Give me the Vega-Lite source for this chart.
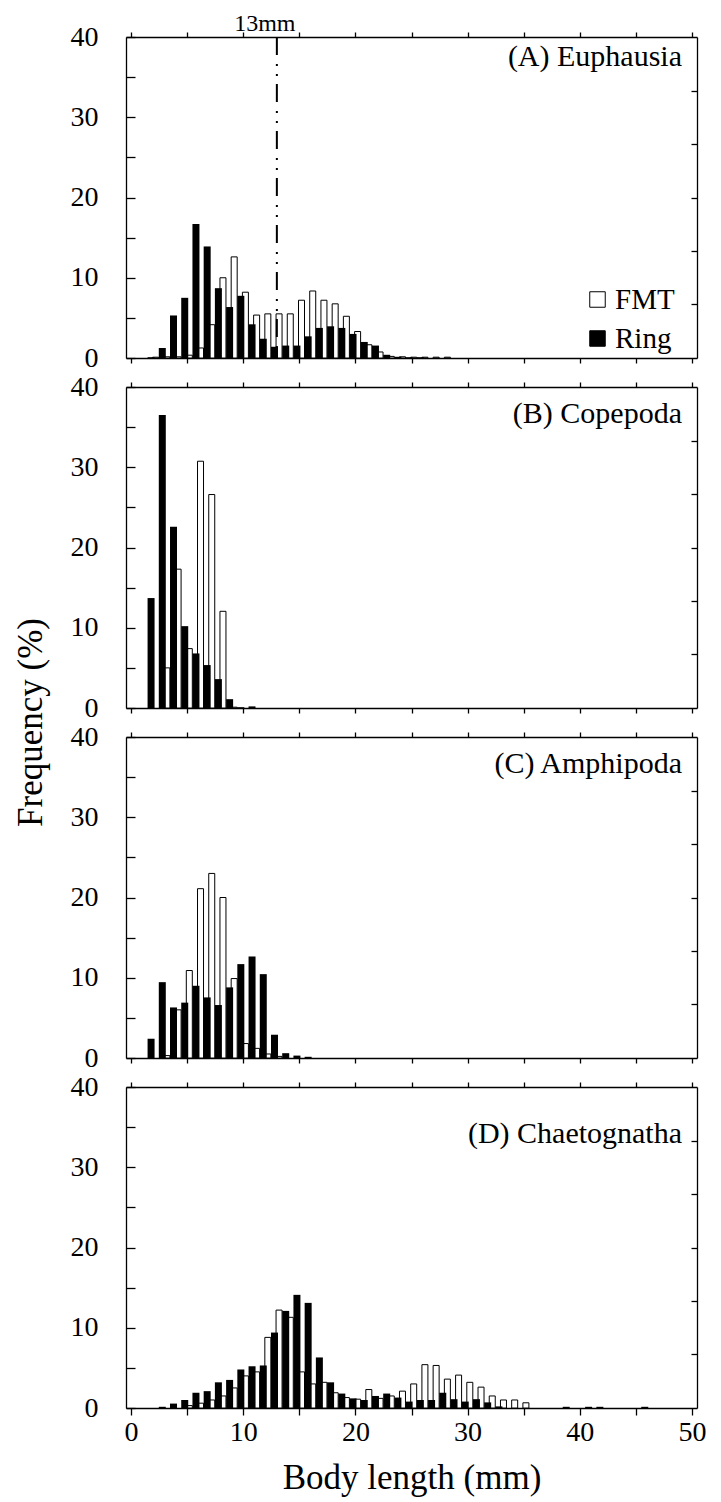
{
"$schema":"https://vega.github.io/schema/vega-lite/v6.json",
"padding":{"left":13,"top":12,"right":0,"bottom":5},
"background":"white",
"config":{"view":{"stroke":null},
"axis":{"grid":false,"domainColor":"black","tickColor":"black","domainWidth":1.3,"tickWidth":1.3,"labelFont":"Liberation Serif","labelFontSize":28,"labelColor":"black","titleFont":"Liberation Serif","titleFontSize":35,"titleFontWeight":"normal","titleColor":"black"}},
"datasets":{
"bars":[
{"p":"A","net":"FMT","len":2,"value":0.1},{"p":"A","net":"FMT","len":3,"value":0.15},{"p":"A","net":"FMT","len":4,"value":0.15},{"p":"A","net":"FMT","len":5,"value":0.35},{"p":"A","net":"FMT","len":6,"value":1.25},{"p":"A","net":"FMT","len":7,"value":4.15},{"p":"A","net":"FMT","len":8,"value":10.0},{"p":"A","net":"FMT","len":9,"value":12.6},{"p":"A","net":"FMT","len":10,"value":8.2},{"p":"A","net":"FMT","len":11,"value":5.35},{"p":"A","net":"FMT","len":12,"value":5.5},{"p":"A","net":"FMT","len":13,"value":5.5},{"p":"A","net":"FMT","len":14,"value":5.5},{"p":"A","net":"FMT","len":15,"value":7.2},{"p":"A","net":"FMT","len":16,"value":8.35},{"p":"A","net":"FMT","len":17,"value":7.2},{"p":"A","net":"FMT","len":18,"value":6.75},{"p":"A","net":"FMT","len":19,"value":5.2},{"p":"A","net":"FMT","len":20,"value":3.3},{"p":"A","net":"FMT","len":21,"value":1.65},{"p":"A","net":"FMT","len":22,"value":0.75},{"p":"A","net":"FMT","len":23,"value":0.2},{"p":"A","net":"FMT","len":24,"value":0.15},{"p":"A","net":"FMT","len":25,"value":0.1},{"p":"A","net":"FMT","len":26,"value":0.1},{"p":"A","net":"FMT","len":27,"value":0.1},{"p":"A","net":"FMT","len":28,"value":0.1},
{"p":"A","net":"Ring","len":1,"value":0.1},{"p":"A","net":"Ring","len":2,"value":1.25},{"p":"A","net":"Ring","len":3,"value":5.3},{"p":"A","net":"Ring","len":4,"value":7.5},{"p":"A","net":"Ring","len":5,"value":16.7},{"p":"A","net":"Ring","len":6,"value":13.9},{"p":"A","net":"Ring","len":7,"value":8.7},{"p":"A","net":"Ring","len":8,"value":6.35},{"p":"A","net":"Ring","len":9,"value":7.75},{"p":"A","net":"Ring","len":10,"value":4.2},{"p":"A","net":"Ring","len":11,"value":2.4},{"p":"A","net":"Ring","len":12,"value":1.4},{"p":"A","net":"Ring","len":13,"value":1.55},{"p":"A","net":"Ring","len":14,"value":1.55},{"p":"A","net":"Ring","len":15,"value":2.7},{"p":"A","net":"Ring","len":16,"value":3.75},{"p":"A","net":"Ring","len":17,"value":3.95},{"p":"A","net":"Ring","len":18,"value":3.75},{"p":"A","net":"Ring","len":19,"value":3.0},{"p":"A","net":"Ring","len":20,"value":2.0},{"p":"A","net":"Ring","len":21,"value":1.55},{"p":"A","net":"Ring","len":22,"value":0.4},{"p":"A","net":"Ring","len":23,"value":0.15},{"p":"A","net":"Ring","len":24,"value":0.1},{"p":"A","net":"Ring","len":25,"value":0.1},
{"p":"B","net":"FMT","len":3,"value":5.0},{"p":"B","net":"FMT","len":4,"value":17.3},{"p":"B","net":"FMT","len":5,"value":7.4},{"p":"B","net":"FMT","len":6,"value":30.75},{"p":"B","net":"FMT","len":7,"value":26.6},{"p":"B","net":"FMT","len":8,"value":12.05},{"p":"B","net":"FMT","len":9,"value":0.1},
{"p":"B","net":"Ring","len":1,"value":13.7},{"p":"B","net":"Ring","len":2,"value":36.5},{"p":"B","net":"Ring","len":3,"value":22.6},{"p":"B","net":"Ring","len":4,"value":10.2},{"p":"B","net":"Ring","len":5,"value":6.8},{"p":"B","net":"Ring","len":6,"value":5.35},{"p":"B","net":"Ring","len":7,"value":3.6},{"p":"B","net":"Ring","len":8,"value":1.1},{"p":"B","net":"Ring","len":9,"value":0.1},{"p":"B","net":"Ring","len":10,"value":0.2},
{"p":"C","net":"FMT","len":3,"value":0.3},{"p":"C","net":"FMT","len":4,"value":6.0},{"p":"C","net":"FMT","len":5,"value":10.9},{"p":"C","net":"FMT","len":6,"value":21.1},{"p":"C","net":"FMT","len":7,"value":23.0},{"p":"C","net":"FMT","len":8,"value":20.0},{"p":"C","net":"FMT","len":9,"value":9.9},{"p":"C","net":"FMT","len":10,"value":1.8},{"p":"C","net":"FMT","len":11,"value":1.2},{"p":"C","net":"FMT","len":12,"value":0.5},{"p":"C","net":"FMT","len":13,"value":0.2},
{"p":"C","net":"Ring","len":1,"value":2.4},{"p":"C","net":"Ring","len":2,"value":9.45},{"p":"C","net":"Ring","len":3,"value":6.3},{"p":"C","net":"Ring","len":4,"value":6.9},{"p":"C","net":"Ring","len":5,"value":9.0},{"p":"C","net":"Ring","len":6,"value":7.55},{"p":"C","net":"Ring","len":7,"value":6.6},{"p":"C","net":"Ring","len":8,"value":8.8},{"p":"C","net":"Ring","len":9,"value":11.7},{"p":"C","net":"Ring","len":10,"value":12.65},{"p":"C","net":"Ring","len":11,"value":10.45},{"p":"C","net":"Ring","len":12,"value":2.9},{"p":"C","net":"Ring","len":13,"value":0.6},{"p":"C","net":"Ring","len":14,"value":0.3},{"p":"C","net":"Ring","len":15,"value":0.15},
{"p":"D","net":"FMT","len":5,"value":0.3},{"p":"D","net":"FMT","len":6,"value":0.6},{"p":"D","net":"FMT","len":7,"value":1.0},{"p":"D","net":"FMT","len":8,"value":1.5},{"p":"D","net":"FMT","len":9,"value":2.5},{"p":"D","net":"FMT","len":10,"value":4.0},{"p":"D","net":"FMT","len":11,"value":4.5},{"p":"D","net":"FMT","len":12,"value":8.8},{"p":"D","net":"FMT","len":13,"value":12.2},{"p":"D","net":"FMT","len":14,"value":11.3},{"p":"D","net":"FMT","len":15,"value":4.5},{"p":"D","net":"FMT","len":16,"value":3.0},{"p":"D","net":"FMT","len":17,"value":3.2},{"p":"D","net":"FMT","len":18,"value":1.9},{"p":"D","net":"FMT","len":19,"value":1.3},{"p":"D","net":"FMT","len":20,"value":1.1},{"p":"D","net":"FMT","len":21,"value":2.3},{"p":"D","net":"FMT","len":22,"value":1.2},{"p":"D","net":"FMT","len":23,"value":1.5},{"p":"D","net":"FMT","len":24,"value":2.1},{"p":"D","net":"FMT","len":25,"value":3.0},{"p":"D","net":"FMT","len":26,"value":5.4},{"p":"D","net":"FMT","len":27,"value":5.3},{"p":"D","net":"FMT","len":28,"value":3.6},{"p":"D","net":"FMT","len":29,"value":4.1},{"p":"D","net":"FMT","len":30,"value":3.2},{"p":"D","net":"FMT","len":31,"value":2.6},{"p":"D","net":"FMT","len":32,"value":1.5},{"p":"D","net":"FMT","len":33,"value":1.0},{"p":"D","net":"FMT","len":34,"value":1.0},{"p":"D","net":"FMT","len":35,"value":0.65},
{"p":"D","net":"Ring","len":2,"value":0.15},{"p":"D","net":"Ring","len":3,"value":0.55},{"p":"D","net":"Ring","len":4,"value":1.0},{"p":"D","net":"Ring","len":5,"value":1.9},{"p":"D","net":"Ring","len":6,"value":2.1},{"p":"D","net":"Ring","len":7,"value":3.2},{"p":"D","net":"Ring","len":8,"value":3.5},{"p":"D","net":"Ring","len":9,"value":4.8},{"p":"D","net":"Ring","len":10,"value":5.2},{"p":"D","net":"Ring","len":11,"value":5.3},{"p":"D","net":"Ring","len":12,"value":9.4},{"p":"D","net":"Ring","len":13,"value":12.1},{"p":"D","net":"Ring","len":14,"value":14.1},{"p":"D","net":"Ring","len":15,"value":13.1},{"p":"D","net":"Ring","len":16,"value":6.3},{"p":"D","net":"Ring","len":17,"value":3.2},{"p":"D","net":"Ring","len":18,"value":1.8},{"p":"D","net":"Ring","len":19,"value":1.2},{"p":"D","net":"Ring","len":20,"value":1.0},{"p":"D","net":"Ring","len":21,"value":1.5},{"p":"D","net":"Ring","len":22,"value":1.8},{"p":"D","net":"Ring","len":23,"value":1.3},{"p":"D","net":"Ring","len":24,"value":0.8},{"p":"D","net":"Ring","len":25,"value":1.0},{"p":"D","net":"Ring","len":26,"value":1.0},{"p":"D","net":"Ring","len":27,"value":1.9},{"p":"D","net":"Ring","len":28,"value":1.1},{"p":"D","net":"Ring","len":29,"value":0.8},{"p":"D","net":"Ring","len":30,"value":1.1},{"p":"D","net":"Ring","len":31,"value":0.7},{"p":"D","net":"Ring","len":32,"value":0.2},{"p":"D","net":"Ring","len":38,"value":0.15},{"p":"D","net":"Ring","len":40,"value":0.15},{"p":"D","net":"Ring","len":41,"value":0.15},{"p":"D","net":"Ring","len":45,"value":0.15}
],
"labels":[{"p":"A","label":"(A) Euphausia"},{"p":"B","label":"(B) Copepoda"},{"p":"C","label":"(C) Amphipoda"},{"p":"D","label":"(D) Chaetognatha"}]
},
"bounds":"flush",
"spacing":29,
"resolve":{"scale":{"fill":"independent"},"legend":{"fill":"independent"}},
"vconcat":[
{"width":571,"height":321,"layer":[
{"data":{"name":"bars"},"transform":[{"filter":"datum.p==='A' && datum.net==='FMT'"}],
"mark":{"type":"bar","width":6,"xOffset":2.2,"stroke":"black","strokeWidth":1},
"encoding":{"x":{"field":"len","type":"quantitative","scale":{"domain":[0,50],"nice":false,"zero":false},"axis":{"orient":"bottom","values":[0,5,10,15,20,25,30,35,40,45,50],"labels":false,"tickSize":5,"title":null}},
"y":{"field":"value","type":"quantitative","scale":{"domain":[0,40],"nice":false},"axis":{"orient":"left","values":[0,5,10,15,20,25,30,35,40],"labelExpr":"datum.value % 10 === 0 ? datum.label : ''","tickSize":-9,"labelPadding":37,"title":null}},
"fill":{"field":"net","type":"nominal","scale":{"domain":["FMT","Ring"],"range":["white","black"]},"legend":{"orient":"none","legendX":457,"legendY":248,"symbolType":"square","symbolSize":240,"symbolStrokeColor":"black","symbolStrokeWidth":1,"symbolOpacity":1,"labelFont":"Liberation Serif","labelFontSize":29,"labelColor":"black","labelOffset":3,"rowPadding":9,"title":null,"padding":0}}}},
{"data":{"name":"bars"},"transform":[{"filter":"datum.p==='A' && datum.net==='Ring'"}],
"mark":{"type":"bar","width":7,"xOffset":8.85},
"encoding":{"x":{"field":"len","type":"quantitative","axis":{"orient":"top","values":[0,5,10,15,20,25,30,35,40,45,50],"labels":false,"tickSize":5,"title":null}},
"y":{"field":"value","type":"quantitative","axis":{"orient":"right","values":[6.6667,13.3333,20,26.6667,33.3333],"labels":false,"tickSize":-6,"title":null}},
"fill":{"field":"net","type":"nominal"}}},
{"data":{"values":[{}]},"mark":{"type":"rule","strokeDash":[18,9,2,8,2,8],"strokeWidth":2,"color":"black"},"encoding":{"x":{"datum":13,"type":"quantitative","axis":null}}},
{"data":{"values":[{}]},"mark":{"type":"text","text":"13mm","font":"Liberation Serif","fontSize":24,"color":"black","align":"center","baseline":"alphabetic","dx":-12,"dy":-6},"encoding":{"x":{"datum":13,"type":"quantitative","axis":null},"y":{"datum":40,"type":"quantitative","axis":null}}},
{"data":{"name":"labels"},"transform":[{"filter":"datum.p==='A'"}],"mark":{"type":"text","font":"Liberation Serif","fontSize":30,"color":"black","align":"right","baseline":"alphabetic","dx":-10,"dy":29},"encoding":{"x":{"datum":50,"type":"quantitative","axis":null},"y":{"datum":40,"type":"quantitative","axis":null},"text":{"field":"label"}}}
]},
{"width":571,"height":321,"layer":[
{"data":{"name":"bars"},"transform":[{"filter":"datum.p==='B' && datum.net==='FMT'"}],
"mark":{"type":"bar","width":6,"xOffset":2.2,"stroke":"black","strokeWidth":1},
"encoding":{"x":{"field":"len","type":"quantitative","scale":{"domain":[0,50],"nice":false,"zero":false},"axis":{"orient":"bottom","values":[0,5,10,15,20,25,30,35,40,45,50],"labels":false,"tickSize":5,"title":null}},
"y":{"field":"value","type":"quantitative","scale":{"domain":[0,40],"nice":false},"axis":{"orient":"left","values":[0,5,10,15,20,25,30,35,40],"labelExpr":"datum.value % 10 === 0 ? datum.label : ''","tickSize":-9,"labelPadding":37,"title":"Frequency (%)","titleX":-96,"titleY":335,"titleAngle":-90,"titleAlign":"center","titleBaseline":"middle"}},
"fill":{"field":"net","type":"nominal","scale":{"domain":["FMT","Ring"],"range":["white","black"]},"legend":null}}},
{"data":{"name":"bars"},"transform":[{"filter":"datum.p==='B' && datum.net==='Ring'"}],
"mark":{"type":"bar","width":7,"xOffset":8.85},
"encoding":{"x":{"field":"len","type":"quantitative","axis":{"orient":"top","values":[0,5,10,15,20,25,30,35,40,45,50],"labels":false,"tickSize":5,"title":null}},
"y":{"field":"value","type":"quantitative","axis":{"orient":"right","values":[6.6667,13.3333,20,26.6667,33.3333],"labels":false,"tickSize":-6,"title":null}},
"fill":{"field":"net","type":"nominal","legend":null}}},
{"data":{"name":"labels"},"transform":[{"filter":"datum.p==='B'"}],"mark":{"type":"text","font":"Liberation Serif","fontSize":30,"color":"black","align":"right","baseline":"alphabetic","dx":-10,"dy":36},"encoding":{"x":{"datum":50,"type":"quantitative","axis":null},"y":{"datum":40,"type":"quantitative","axis":null},"text":{"field":"label"}}}
]},
{"width":571,"height":321,"layer":[
{"data":{"name":"bars"},"transform":[{"filter":"datum.p==='C' && datum.net==='FMT'"}],
"mark":{"type":"bar","width":6,"xOffset":2.2,"stroke":"black","strokeWidth":1},
"encoding":{"x":{"field":"len","type":"quantitative","scale":{"domain":[0,50],"nice":false,"zero":false},"axis":{"orient":"bottom","values":[0,5,10,15,20,25,30,35,40,45,50],"labels":false,"tickSize":5,"title":null}},
"y":{"field":"value","type":"quantitative","scale":{"domain":[0,40],"nice":false},"axis":{"orient":"left","values":[0,5,10,15,20,25,30,35,40],"labelExpr":"datum.value % 10 === 0 ? datum.label : ''","tickSize":-9,"labelPadding":37,"title":null}},
"fill":{"field":"net","type":"nominal","scale":{"domain":["FMT","Ring"],"range":["white","black"]},"legend":null}}},
{"data":{"name":"bars"},"transform":[{"filter":"datum.p==='C' && datum.net==='Ring'"}],
"mark":{"type":"bar","width":7,"xOffset":8.85},
"encoding":{"x":{"field":"len","type":"quantitative","axis":{"orient":"top","values":[0,5,10,15,20,25,30,35,40,45,50],"labels":false,"tickSize":5,"title":null}},
"y":{"field":"value","type":"quantitative","axis":{"orient":"right","values":[6.6667,13.3333,20,26.6667,33.3333],"labels":false,"tickSize":-6,"title":null}},
"fill":{"field":"net","type":"nominal","legend":null}}},
{"data":{"name":"labels"},"transform":[{"filter":"datum.p==='C'"}],"mark":{"type":"text","font":"Liberation Serif","fontSize":30,"color":"black","align":"right","baseline":"alphabetic","dx":-10,"dy":36},"encoding":{"x":{"datum":50,"type":"quantitative","axis":null},"y":{"datum":40,"type":"quantitative","axis":null},"text":{"field":"label"}}}
]},
{"width":571,"height":321,"layer":[
{"data":{"name":"bars"},"transform":[{"filter":"datum.p==='D' && datum.net==='FMT'"}],
"mark":{"type":"bar","width":6,"xOffset":2.2,"stroke":"black","strokeWidth":1},
"encoding":{"x":{"field":"len","type":"quantitative","scale":{"domain":[0,50],"nice":false,"zero":false},"axis":{"orient":"bottom","values":[0,5,10,15,20,25,30,35,40,45,50],"labelExpr":"datum.value % 10 === 0 ? datum.label : ''","tickSize":7,"labelPadding":3,"title":"Body length (mm)","titlePadding":14}},
"y":{"field":"value","type":"quantitative","scale":{"domain":[0,40],"nice":false},"axis":{"orient":"left","values":[0,5,10,15,20,25,30,35,40],"labelExpr":"datum.value % 10 === 0 ? datum.label : ''","tickSize":-9,"labelPadding":37,"title":null}},
"fill":{"field":"net","type":"nominal","scale":{"domain":["FMT","Ring"],"range":["white","black"]},"legend":null}}},
{"data":{"name":"bars"},"transform":[{"filter":"datum.p==='D' && datum.net==='Ring'"}],
"mark":{"type":"bar","width":7,"xOffset":8.85},
"encoding":{"x":{"field":"len","type":"quantitative","axis":{"orient":"top","values":[0,5,10,15,20,25,30,35,40,45,50],"labels":false,"tickSize":5,"title":null}},
"y":{"field":"value","type":"quantitative","axis":{"orient":"right","values":[6.6667,13.3333,20,26.6667,33.3333],"labels":false,"tickSize":-6,"title":null}},
"fill":{"field":"net","type":"nominal","legend":null}}},
{"data":{"name":"labels"},"transform":[{"filter":"datum.p==='D'"}],"mark":{"type":"text","font":"Liberation Serif","fontSize":30,"color":"black","align":"right","baseline":"alphabetic","dx":-10,"dy":56},"encoding":{"x":{"datum":50,"type":"quantitative","axis":null},"y":{"datum":40,"type":"quantitative","axis":null},"text":{"field":"label"}}}
]}
]
}
